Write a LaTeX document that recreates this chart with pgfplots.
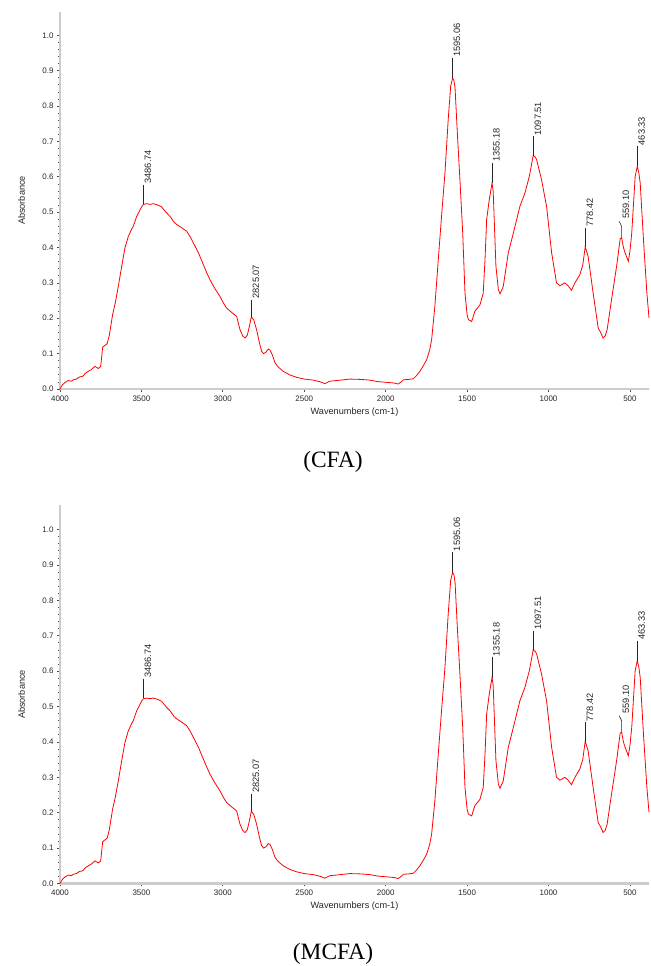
\documentclass[border=0pt]{standalone}
\usepackage{pgfplots}
\pgfplotsset{compat=1.18}
\usepackage{pgfplotstable}
\usepackage{fontspec}
\setmainfont{Liberation Sans}
\newfontfamily\capfont{Liberation Serif}

\pgfplotstableread{
wn a
4000 0.000
3985 0.012
3970 0.018
3950 0.024
3930 0.022
3918 0.026
3900 0.028
3880 0.034
3860 0.036
3845 0.044
3826 0.050
3810 0.054
3795 0.060
3785 0.064
3765 0.058
3750 0.064
3738 0.118
3722 0.124
3710 0.128
3697 0.152
3677 0.210
3662 0.240
3642 0.290
3621 0.347
3601 0.399
3580 0.432
3560 0.452
3550 0.460
3529 0.488
3510 0.505
3498 0.516
3487 0.522
3468 0.524
3447 0.522
3427 0.524
3400 0.520
3376 0.515
3350 0.500
3324 0.488
3300 0.472
3283 0.465
3250 0.455
3222 0.446
3200 0.430
3181 0.413
3150 0.385
3120 0.352
3100 0.330
3079 0.309
3050 0.285
3018 0.262
2995 0.242
2977 0.229
2950 0.218
2915 0.205
2895 0.168
2878 0.150
2864 0.144
2850 0.152
2838 0.175
2825 0.204
2810 0.195
2793 0.168
2775 0.130
2762 0.107
2750 0.100
2735 0.104
2721 0.113
2710 0.110
2695 0.095
2680 0.074
2660 0.062
2629 0.050
2590 0.040
2547 0.033
2500 0.028
2444 0.025
2400 0.020
2373 0.015
2343 0.022
2300 0.024
2219 0.028
2150 0.027
2097 0.025
2050 0.021
2000 0.019
1950 0.017
1923 0.014
1905 0.020
1892 0.026
1860 0.027
1830 0.029
1810 0.038
1790 0.050
1770 0.065
1748 0.083
1730 0.110
1718 0.139
1698 0.234
1677 0.366
1657 0.488
1636 0.611
1616 0.762
1601 0.856
1589 0.879
1581 0.872
1574 0.851
1560 0.724
1543 0.582
1527 0.441
1513 0.271
1500 0.210
1492 0.196
1472 0.191
1452 0.220
1421 0.238
1401 0.271
1390 0.366
1380 0.479
1364 0.535
1347 0.582
1340 0.560
1335 0.498
1323 0.347
1308 0.281
1298 0.269
1278 0.290
1247 0.385
1216 0.441
1176 0.516
1145 0.554
1118 0.601
1094 0.660
1080 0.655
1073 0.648
1043 0.592
1012 0.516
981 0.385
951 0.300
930 0.292
900 0.300
880 0.292
859 0.279
838 0.300
808 0.323
790 0.350
775 0.401
768 0.392
757 0.375
726 0.271
695 0.172
680 0.160
665 0.144
652 0.150
640 0.168
613 0.253
582 0.347
560 0.425
551 0.427
540 0.400
530 0.385
510 0.361
500 0.390
489 0.441
468 0.601
455 0.630
445 0.610
437 0.582
417 0.422
396 0.271
383 0.201
}\spec

\pgfplotsset{ftir/.style={
  scale only axis, width=589bp, height=#1,
  x dir=reverse, xmin=383, xmax=4000, ymin=0, ymax=1.066,
  axis x line=bottom, axis y line=left,
  axis line style={-, draw=gray!40, line width=2.2bp},
  xtick={500,1000,1500,2000,2500,3000,3500,4000},
  ytick={0,0.1,0.2,0.3,0.4,0.5,0.6,0.7,0.8,0.9,1.0},
  minor x tick num=4, minor y tick num=4,
  tick align=outside, major tick length=3bp, minor tick length=1.5bp,
  tick style={black!70, line width=0.7bp},
  scaled ticks=false,
  /pgf/number format/assume math mode=true,
  yticklabel style={/pgf/number format/fixed, /pgf/number format/fixed zerofill,
     /pgf/number format/precision=1, font=\fontsize{8}{9}\selectfont, text=black!85},
  xticklabel style={/pgf/number format/1000 sep={}, font=\fontsize{8}{9}\selectfont, text=black!85},
  xlabel={Wavenumbers (cm-1)}, ylabel={Absorbance},
  every axis y label/.style={at={(axis description cs:-0.065,0.5)}, rotate=90, anchor=center},
  every axis x label/.style={at={(axis description cs:0.5,-0.061)}, anchor=center},
  label style={font=\fontsize{9.2}{10}\selectfont, text=black!85},
  clip=false,
}}

\newcommand{\peak}[4]{%
  \draw[black!85, line width=0.6bp] (axis cs:#1,#2) -- (axis cs:#1,#3)
    node[rotate=90, anchor=north west, inner sep=0.8bp, font=\fontsize{9.3}{10}\selectfont, text=black!85] {#4};}

\newcommand{\peaks}{%
  \peak{3487}{0.524}{0.578}{3486.74}
  \peak{2823}{0.204}{0.253}{2825.07}
  \peak{1589}{0.879}{0.936}{1595.06}
  \peak{1347}{0.582}{0.639}{1355.18}
  \peak{1092}{0.660}{0.714}{1097.51}
  \peak{773}{0.401}{0.455}{778.42}
  \draw[black!85, line width=0.6bp] (axis cs:551,0.427) -- (axis cs:551,0.460) -- (axis cs:566,0.474);
  \node[rotate=90, anchor=north west, inner sep=0.8bp, font=\fontsize{9.3}{10}\selectfont, text=black!85] at (axis cs:551,0.478) {559.10};
  \peak{455}{0.630}{0.686}{463.33}
}

\begin{document}
\begin{tikzpicture}[x=1bp,y=1bp]
\path[use as bounding box] (0,0) rectangle (651,966);
\begin{axis}[ftir=377bp, at={(60bp,577bp)}, anchor=south west]
\addplot[red, line width=0.8bp, mark=none] table[x=wn, y=a] {\spec};
\peaks
\end{axis}
\node[font=\capfont\fontsize{23.5}{26}\selectfont] at (333,504) {(CFA)};

\begin{axis}[ftir=378bp, ymax=1.068, at={(60bp,82.5bp)}, anchor=south west]
\addplot[red, line width=0.8bp, mark=none] table[x=wn, y=a] {\spec};
\peaks
\end{axis}
\node[font=\capfont\fontsize{23.5}{26}\selectfont] at (333,12) {(MCFA)};
\end{tikzpicture}
\end{document}
